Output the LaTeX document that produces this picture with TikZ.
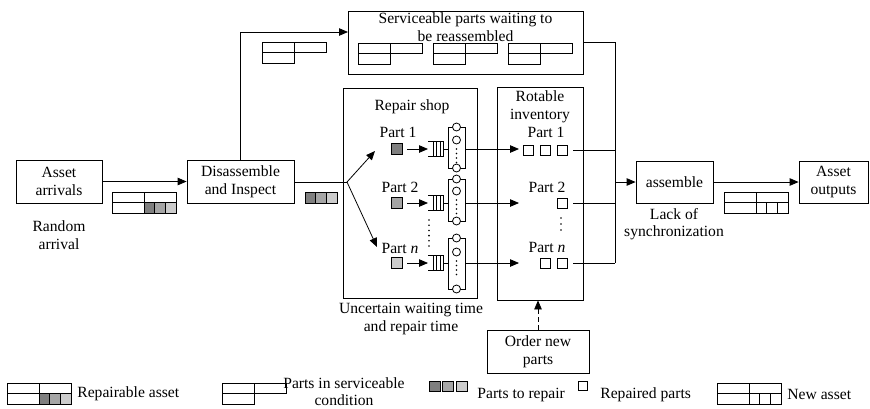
\documentclass[tikz,border=0pt]{standalone}
\usepackage{fontspec}
\setmainfont{Liberation Serif}
\usetikzlibrary{arrows.meta}
\definecolor{gdark}{HTML}{7F7F7F}
\definecolor{gmid}{HTML}{A5A5A5}
\definecolor{glight}{HTML}{CCCCCC}
\begin{document}
\begin{tikzpicture}[x=1pt,y=-1pt,line width=0.8pt,
  font=\fontsize{15.6}{17.5}\selectfont,
  arr/.style={-{Triangle[length=9pt,width=7.5pt]}},
  box/.style={draw,inner sep=0pt,align=center},
  txt/.style={inner sep=0pt,align=center},
  sq/.style={draw,minimum size=10pt,inner sep=0pt},
  gsq/.style={draw,minimum width=10.7pt,minimum height=11pt,inner sep=0pt},
  repasset/.pic={
    \draw (0,0) rectangle (32,10.5);
    \draw (32,0) rectangle (64,10.5);
    \draw (0,10.5) rectangle (32,21);
    \draw[fill=gdark] (32,10.5) rectangle (42.7,21);
    \draw[fill=gmid] (42.7,10.5) rectangle (53.3,21);
    \draw[fill=glight] (53.3,10.5) rectangle (64,21);
  },
  servpart/.pic={
    \draw (0,0) rectangle (32,10.5);
    \draw (32,0) rectangle (64,10.5);
    \draw (0,10.5) rectangle (32,21);
  },
  newasset/.pic={
    \draw (0,0) rectangle (32,10.5);
    \draw (32,0) rectangle (64,10.5);
    \draw (0,10.5) rectangle (32,21);
    \draw (32,10.5) rectangle (42.7,21);
    \draw (42.7,10.5) rectangle (53.3,21);
    \draw (53.3,10.5) rectangle (64,21);
  }]
\useasboundingbox (0,0) rectangle (870,408);

% main boxes
\node[box,minimum width=86pt,minimum height=43pt] (arr) at (59,181.5) {Asset\\arrivals};
\node[box,minimum width=107pt,minimum height=43pt] (dis) at (240.5,181.5) {Disassemble\\and Inspect};
\node[box,minimum width=235pt,minimum height=63pt] (serv) at (465.5,42.5) {};
\node[txt] (servtxt) at (465.5,27) {Serviceable parts waiting to\\be reassembled};
\node[box,minimum width=134pt,minimum height=210pt] (rep) at (410,193) {};
\node[txt] (reptxt) at (412,107) {Repair shop};
\node[box,minimum width=86pt,minimum height=213pt] (rot) at (540,193.5) {};
\node[txt] (rottxt) at (540,107) {Rotable\\inventory};
\node[box,minimum width=102pt,minimum height=43pt] (order) at (538,351.5) {Order new\\parts};
\node[box,minimum width=77pt,minimum height=42pt] (asm) at (674.5,182) {assemble};
\node[box,minimum width=69pt,minimum height=42pt] (out) at (833.5,182) {Asset\\outputs};

% annotations
\node[txt] (rand) at (59,235) {Random\\arrival};
\node[txt] (lack) at (674,224) {Lack of\\synchronization};
\node[txt] (unc) at (411,319) {Uncertain waiting time\\and repair time};

% icons on flows
\pic at (112,192) {repasset};
\pic at (262,42) {servpart};
\pic at (358,43) {servpart};
\pic at (433,43) {servpart};
\pic at (508,43) {servpart};
\pic at (724,192) {newasset};
\node[gsq,fill=gdark] (g1) at (310.3,197.5) {};
\node[gsq,fill=gmid] (g2) at (321,197.5) {};
\node[gsq,fill=glight] (g3) at (331.7,197.5) {};

% flows
\draw[arr] (arr.east) -- (dis.west);
\coordinate (sin) at (348,32);
\draw[arr] (dis.north) |- (sin);
\coordinate (split) at (347,182);
\draw (dis.east |- split) -- (split);
\coordinate (t1) at (375,151);
\coordinate (tn) at (377,247);
\draw[arr] (split) -- (t1);
\draw[arr] (split) -- (tn);

% repair stations
\node[txt] (pl1) at (398,132) {Part 1};
\node[txt] (pl2) at (400,187) {Part 2};
\node[txt] (pln) at (400,248) {Part \textit{n}};
\foreach \i/\yc/\ta/\tb/\bo/\col in {1/149/127/140/168/gdark,2/203/179/191/221/gmid,n/263/238/252/289/glight}{
  \node[sq,minimum size=11pt,fill=\col] (sq\i) at (396.5,\yc) {};
  \coordinate (qin\i) at (428,\yc);
  \coordinate (qout\i) at (443,\yc);
  \coordinate (fin\i) at (448,\yc);
  \coordinate (sv\i) at (465,\yc);
  \coordinate (ri\i) at (519,\yc);
  \draw[arr,shorten <=5pt] (sq\i) -- (qin\i);
  \draw (428,\yc-7.5) -- (443,\yc-7.5) -- (443,\yc+7.5) -- (428,\yc+7.5);
  \foreach \xx in {433,436.5,440} \draw (\xx,\yc-7.5) -- (\xx,\yc+7.5);
  \draw (qout\i) -- (fin\i);
  \draw (448,\ta) rectangle (465,\bo);
  \foreach \cy in {\ta,\tb,\bo} \draw[fill=white] (456.5,\cy) circle (4);
  \foreach \dy in {0,1,2,3} \fill (456.5,\tb+9+\dy*4.5) circle (0.9);
  \draw[arr] (sv\i) -- (ri\i);
}
\foreach \dy in {0,...,5} \fill (429,220+\dy*5.2) circle (0.9);

% rotable inventory
\node[txt] (rl1) at (546,132) {Part 1};
\node[txt] (rl2) at (547,187) {Part 2};
\node[txt] (rln) at (547,247) {Part \textit{n}};
\node[sq] (r1a) at (528,150) {};
\node[sq] (r1b) at (545,150) {};
\node[sq] (r1c) at (562,150) {};
\node[sq] (r2a) at (562,203) {};
\node[sq] (rna) at (545,263) {};
\node[sq] (rnb) at (562,263) {};
\foreach \dy in {0,1,2} \fill (561,218+\dy*6) circle (0.9);
\coordinate (jtop) at (615,42.5);
\coordinate (jn) at (615,263);
\coordinate (o1) at (573,150);
\coordinate (o2) at (573,203);
\coordinate (on) at (573,263);
\draw (serv.east) -- (jtop) -- (jn);
\draw (o1) -- (o1 -| jn);
\draw (o2) -- (o2 -| jn);
\draw (on) -- (jn);
\coordinate (jm) at (615,182);
\draw[arr] (jm) -- (asm.west);
\draw[arr] (asm.east) -- (out.west);
\draw[arr,dash pattern=on 5pt off 3pt] (order.north) -- (order.north |- rot.south);

% legend
\pic at (7,383) {repasset};
\node[txt,anchor=west] (lg1) at (77,394) {Repairable asset};
\pic at (222,383) {servpart};
\node[txt,font=\fontsize{15.6}{16.5}\selectfont] (lg2) at (344,391.5) {Parts in serviceable\\condition};
\node[draw,minimum width=11pt,minimum height=10pt,inner sep=0pt,fill=gdark] (l1) at (434.5,386) {};
\node[draw,minimum width=11pt,minimum height=10pt,inner sep=0pt,fill=gmid] (l2) at (448,386) {};
\node[draw,minimum width=11pt,minimum height=10pt,inner sep=0pt,fill=glight] (l3) at (461.5,386) {};
\node[txt,anchor=west] (lg3) at (477,395) {Parts to repair};
\node[sq,minimum size=9pt] (l4) at (582.5,386) {};
\node[txt,anchor=west] (lg4) at (600,395) {Repaired parts};
\pic at (717,383) {newasset};
\node[txt,anchor=west] (lg5) at (787,394) {New asset};
\end{tikzpicture}
\end{document}
